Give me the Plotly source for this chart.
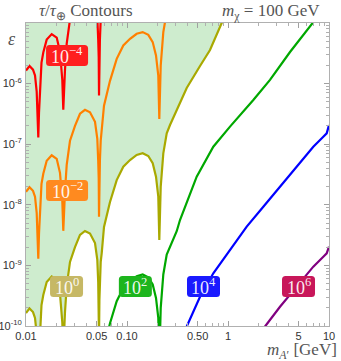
import math
import plotly.graph_objects as go

# ---------------- data ----------------
# dark-photon mass grid used for the left / arch part of the contours [GeV]
M_GRID = [0.01, 0.01083, 0.01173, 0.01228, 0.01276, 0.01306, 0.01324, 0.01345, 0.01376, 0.01424,
          0.01483, 0.01603, 0.01797, 0.02014, 0.02171, 0.02246, 0.02287, 0.02340, 0.02378, 0.02433,
          0.02529, 0.02727, 0.03055, 0.03424, 0.03838, 0.04302, 0.04822, 0.05082, 0.05188, 0.05247,
          0.05283, 0.05331, 0.05393, 0.05492, 0.05619, 0.05920, 0.06787, 0.07907, 0.09193, 0.1071,
          0.1247, 0.1430, 0.1625, 0.1797, 0.1937, 0.2041, 0.2089, 0.2157, 0.2288, 0.2473,
          0.2665, 0.3105]

# tau/tau_E = 1e-4 (red)
M_RED = M_GRID[:35]
EPS_RED = [1.64e-6, 1.95e-6, 1.70e-6, 1.36e-6, 7.38e-7, 3.32e-7, 1.29e-7, 3.32e-7, 9.27e-7, 2.22e-6,
           3.25e-6, 5.32e-6, 6.56e-6, 5.74e-6, 3.37e-6, 1.84e-6, 1.16e-6, 3.72e-7, 7.96e-7, 1.70e-6,
           4.57e-6, 1.14e-5, 2.01e-5, 3.18e-5, 3.70e-5, 3.36e-5, 2.34e-5, 1.23e-5, 5.32e-6, 2.69e-6,
           6.34e-7, 2.69e-6, 5.32e-6, 1.14e-5, 1.60e-5]

# tau/tau_E = 1e-2 (orange)
M_ORANGE = M_GRID[:50]
EPS_ORANGE = [1.64e-8, 1.95e-8, 1.70e-8, 1.36e-8, 7.38e-9, 3.32e-9, 1.29e-9, 3.32e-9, 9.27e-9, 2.22e-8,
              3.25e-8, 5.32e-8, 6.56e-8, 5.74e-8, 3.37e-8, 1.84e-8, 1.16e-8, 3.72e-9, 7.96e-9, 1.70e-8,
              4.57e-8, 1.14e-7, 2.01e-7, 3.18e-7, 3.70e-7, 3.36e-7, 2.34e-7, 1.23e-7, 5.32e-8, 2.69e-8,
              6.34e-9, 2.69e-8, 5.32e-8, 1.14e-7, 1.60e-7, 4.31e-7, 1.11e-6, 2.56e-6, 4.26e-6, 5.48e-6,
              6.64e-6, 7.08e-6, 6.38e-6, 4.84e-6, 2.91e-6, 1.36e-6, 2.62e-7, 1.99e-6, 7.08e-6, 1.51e-5]

# tau/tau_E = 1 (olive)
M_OLIVE = M_GRID + [0.3901, 0.5283, 0.6634, 0.8663, 0.95]
EPS_OLIVE = [1.64e-10, 1.95e-10, 1.70e-10, 1.36e-10, 7.38e-11, 3.32e-11, 1.29e-11, 3.32e-11, 9.27e-11, 2.22e-10,
             3.25e-10, 5.32e-10, 6.56e-10, 5.74e-10, 3.37e-10, 1.84e-10, 1.16e-10, 3.72e-11, 7.96e-11, 1.70e-10,
             4.57e-10, 1.14e-9, 2.01e-9, 3.18e-9, 3.70e-9, 3.36e-9, 2.34e-9, 1.23e-9, 5.32e-10, 2.69e-10,
             6.34e-11, 2.69e-10, 5.32e-10, 1.14e-9, 1.60e-9, 4.31e-9, 1.11e-8, 2.56e-8, 4.26e-8, 5.48e-8,
             6.64e-8, 7.08e-8, 6.38e-8, 4.84e-8, 2.91e-8, 1.36e-8, 2.62e-9, 1.99e-8, 7.08e-8, 1.51e-7,
             2.07e-7, 3.66e-7, 8.45e-7, 1.95e-6, 3.58e-6, 1.0e-5, 1.4e-5]

# tau/tau_E = 1e2 (green)
M_GREEN = [0.05920, 0.06787, 0.07907, 0.09193, 0.1071, 0.1247, 0.1430, 0.1625, 0.1797, 0.1937,
           0.2041, 0.2089, 0.2157, 0.2288, 0.2473, 0.2665, 0.3105, 0.3348, 0.4898, 0.7154,
           1.047, 1.781, 2.605, 4.111, 6.993, 7.5]
EPS_GREEN = [4.31e-11, 1.11e-10, 2.56e-10, 4.26e-10, 5.48e-10, 6.64e-10, 7.08e-10, 6.38e-10, 4.84e-10, 2.91e-10,
             1.36e-10, 2.62e-11, 1.99e-10, 7.08e-10, 1.51e-9, 2.07e-9, 3.66e-9, 5.61e-9, 2.91e-8, 9.10e-8,
             1.95e-7, 5.36e-7, 1.15e-6, 3.32e-6, 1.0e-5, 1.2e-5]

# tau/tau_E = 1e4 (blue)
M_BLUE = [0.3901, 0.5283, 0.7154, 1.047, 1.532, 2.237, 3.272, 4.788, 6.993, 8.783, 9.490, 10.0]
EPS_BLUE = [9.8e-11, 3.04e-10, 7.41e-10, 1.79e-9, 4.36e-9, 9.31e-9, 1.99e-8, 4.26e-8, 9.10e-8, 1.33e-7,
            1.51e-7, 2.07e-7]

# tau/tau_E = 1e6 (purple)
M_PURPLE = [2.324, 3.272, 4.788, 6.993, 8.783, 9.490, 10.0]
EPS_PURPLE = [9.8e-11, 2.08e-10, 4.46e-10, 9.53e-10, 1.39e-9, 1.58e-9, 2.04e-9]

# contour labels
LABEL_TEXT = ["10<sup>−4</sup>", "10<sup>−2</sup>", "10<sup>0</sup>", "10<sup>2</sup>", "10<sup>4</sup>", "10<sup>6</sup>"]
LABEL_M = [0.0255, 0.0255, 0.0252, 0.121, 0.572, 4.99]
LABEL_EPS = [2.91e-6, 1.72e-8, 4.49e-10, 4.49e-10, 4.49e-10, 4.49e-10]

# ticks
X_TICKS = [0.01, 0.05, 0.1, 0.5, 1, 5, 10]
X_TICKTEXT = ["0.01", "0.05", "0.10", "0.50", "1", "5", "10"]
X_MINOR = [0.02, 0.03, 0.04, 0.06, 0.07, 0.08, 0.09, 0.2, 0.3, 0.4, 0.6, 0.7, 0.8, 0.9,
           2, 3, 4, 6, 7, 8, 9]
Y_TICKS = [1e-10, 1e-9, 1e-8, 1e-7, 1e-6]
Y_TICKTEXT = ["10<sup>-10</sup>", "10<sup>-9</sup>", "10<sup>-8</sup>", "10<sup>-7</sup>", "10<sup>-6</sup>"]
Y_MINOR = [k * 10.0 ** d for d in range(-10, -5) for k in range(2, 10)]

X_RANGE = [-2, 1]
Y_RANGE = [-10, -5]

# ---------------- styles ----------------
LINE_COLORS = ["#ff0000", "#ff8000", "#a9a900", "#00a800", "#0000ff", "#800080"]
BOX_COLORS = ["#ff1f1f", "#ff8a1f", "#c6b865", "#1db51d", "#1a1aff", "#c8175a"]
BOX_W = [42, 42, 33, 33, 33, 33]
BOX_H = 21
SHADE = "rgb(206,236,206)"
SERIF = "Liberation Serif, Times New Roman, serif"
SANS = "Liberation Sans, Arial, sans-serif"

fig = go.Figure()

# shaded region above the tau/tau_E = 1 contour
shade_top = 10 ** (Y_RANGE[1] + 1)
fig.add_trace(go.Scatter(
    x=M_OLIVE + [M_OLIVE[-1], M_OLIVE[0]],
    y=EPS_OLIVE + [shade_top, shade_top],
    mode="lines", fill="toself", fillcolor=SHADE, line=dict(width=0),
    hoverinfo="skip", showlegend=False))

series = [(M_RED, EPS_RED), (M_ORANGE, EPS_ORANGE), (M_OLIVE, EPS_OLIVE),
          (M_GREEN, EPS_GREEN), (M_BLUE, EPS_BLUE), (M_PURPLE, EPS_PURPLE)]
for (mx, ey), col in zip(series, LINE_COLORS):
    fig.add_trace(go.Scatter(x=mx, y=ey, mode="lines",
                             line=dict(color=col, width=2.2),
                             hoverinfo="skip", showlegend=False))


def rounded_rect(w, h, r):
    hw, hh = w / 2, h / 2
    return (f"M {-hw + r},{-hh} L {hw - r},{-hh} Q {hw},{-hh} {hw},{-hh + r} "
            f"L {hw},{hh - r} Q {hw},{hh} {hw - r},{hh} L {-hw + r},{hh} "
            f"Q {-hw},{hh} {-hw},{hh - r} L {-hw},{-hh + r} Q {-hw},{-hh} {-hw + r},{-hh} Z")


for txt, m, e, bg, w in zip(LABEL_TEXT, LABEL_M, LABEL_EPS, BOX_COLORS, BOX_W):
    fig.add_shape(type="path", xref="x", yref="y", xsizemode="pixel", ysizemode="pixel",
                  xanchor=m, yanchor=e, path=rounded_rect(w, BOX_H, 3.5),
                  fillcolor=bg, line=dict(width=0), layer="above")
    fig.add_annotation(x=math.log10(m), y=math.log10(e), xref="x", yref="y", text=txt,
                       showarrow=False, font=dict(family=SERIF, size=18, color="rgba(255,255,255,0.93)"))

# titles / axis labels
L_M, R_M, T_M, B_M = 26, 12, 23, 35
W, H = 341, 361
PW, PH = W - L_M - R_M, H - T_M - B_M


def px(xp, yp):
    return (xp - L_M) / PW, (H - B_M - yp) / PH


for text, (xp, yp), size, anchor in [
    ("<i>τ</i>/<i>τ</i><sub>⊕</sub> Contours", (37, 12), 17, "left"),
    ("<i>m</i><sub>χ</sub> = 100 GeV", (322, 12), 17, "right"),
    ("<i>ε</i>", (12, 39), 18, "center"),
    ("<i>m</i><sub><i>A</i>′</sub> [GeV]", (339, 351), 17, "right"),
]:
    ax_, ay_ = px(xp, yp)
    fig.add_annotation(x=ax_, y=ay_, xref="paper", yref="paper", text=text, showarrow=False,
                       xanchor=anchor, yanchor="middle",
                       font=dict(family=SERIF, size=size, color="#555555"))

axis_common = dict(
    type="log", showgrid=False, zeroline=False, showline=True, linecolor="#b0b0b0", linewidth=1,
    mirror="allticks", ticks="inside", ticklen=5, tickwidth=1, tickcolor="#a0a0a0",
    tickfont=dict(family=SANS, size=11, color="#333333"), automargin=False,
)
fig.update_xaxes(range=X_RANGE, tickvals=X_TICKS, ticktext=X_TICKTEXT,
                 minor=dict(tickvals=X_MINOR, ticks="inside", ticklen=3, tickcolor="#b0b0b0"),
                 ticklabelstandoff=0, **axis_common)
fig.update_yaxes(range=Y_RANGE, tickvals=Y_TICKS, ticktext=Y_TICKTEXT,
                 minor=dict(tickvals=Y_MINOR, ticks="inside", ticklen=3, tickcolor="#b0b0b0"),
                 ticklabelstandoff=1, **axis_common)

fig.update_layout(width=W, height=H, margin=dict(l=L_M, r=R_M, t=T_M, b=B_M),
                  paper_bgcolor="white", plot_bgcolor="white", showlegend=False)

fig.write_html("out.html", config={"displayModeBar": False},
               post_script="document.body.style.margin='0px';")
